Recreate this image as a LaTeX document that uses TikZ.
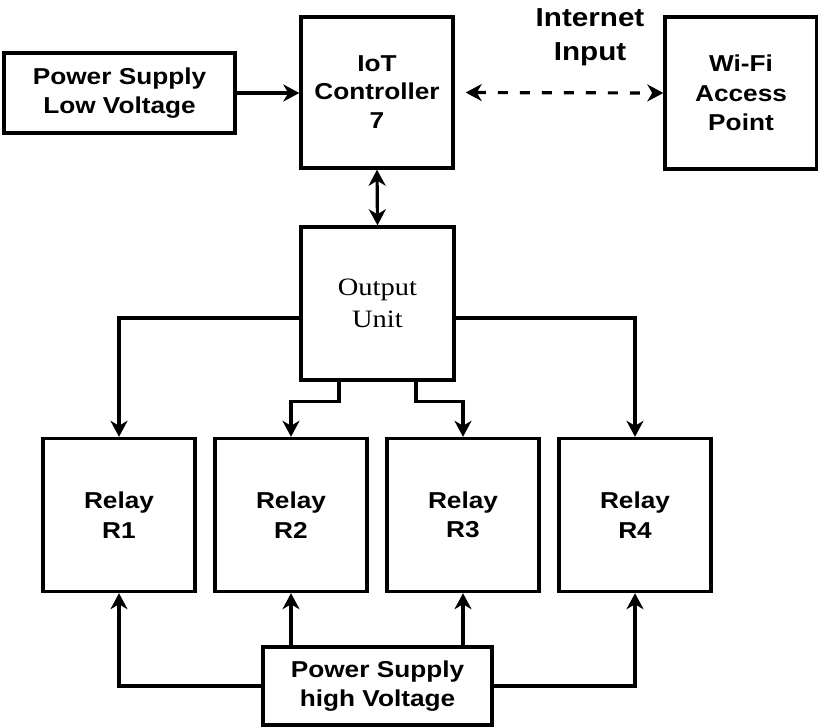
\documentclass[tikz,border=0pt]{standalone}
\usepackage{fontspec}
\setmainfont{Liberation Sans}[FakeStretch=1.14]
\newfontfamily\serifstretch{Liberation Serif}[FakeStretch=1.14]
\usetikzlibrary{arrows.meta}
\begin{document}
\begin{tikzpicture}[x=1pt,y=-1pt,
  box/.style={draw, line width=3.4pt, rectangle, align=center, inner sep=0pt,
    font=\fontsize{23}{29.5}\selectfont\bfseries},
  conn/.style={line width=3.2pt, -{Stealth[length=16pt,width=17pt,inset=5pt]}},
  bothconn/.style={line width=3.2pt, {Stealth[length=16pt,width=17pt,inset=5pt]}-{Stealth[length=16pt,width=17pt,inset=5pt]}},
  lbl/.style={align=center, inner sep=0pt, font=\fontsize{26}{34}\selectfont\bfseries}
]
\useasboundingbox (0,0) rectangle (818,727);
\node[box, minimum width=231pt, minimum height=80pt] (pslv) at (119.5,93) {Power Supply\\Low Voltage};
\node[box, minimum width=152pt, minimum height=151pt] (iot) at (377,92.5) {\raisebox{-2pt}{IoT}\\Controller\\7};
\node[box, minimum width=152pt, minimum height=152pt] (wifi) at (741,93) {Wi-Fi\\Access\\Point};
\node[lbl] (inet) at (590,37) {Internet\\Input};
\node[box, minimum width=153pt, minimum height=153pt, font=\serifstretch\fontsize{25}{32}\selectfont] (out) at (377.5,303.5) {Output\\Unit};
\node[box, minimum width=152pt, minimum height=153pt] (r1) at (119,515) {Relay\\R1};
\node[box, minimum width=152pt, minimum height=153pt] (r2) at (291,515) {Relay\\R2};
\node[box, minimum width=152pt, minimum height=153pt] (r3) at (463,515) {Relay\\R3};
\node[box, minimum width=152pt, minimum height=153pt] (r4) at (635,515) {Relay\\R4};
\node[box, minimum width=229pt, minimum height=78pt] (pshv) at (377.5,686) {Power Supply\\high Voltage};

\draw[conn] (pslv.east) -- (iot.west |- pslv.east);
\draw[bothconn, dash pattern=on 10pt off 12pt, shorten <=11pt] (iot.east) -- (wifi.west);
\draw[bothconn] (iot.south) -- (out.north);
\draw[conn] ([yshift=-14.5pt]out.west) -| (r1.north);
\draw[conn] ([yshift=-14.5pt]out.east) -| (r4.north);
\draw[conn] ([xshift=-38.5pt]out.south) -- ++(0,20) -| (r2.north);
\draw[conn] ([xshift=38.5pt]out.south) -- ++(0,20) -| (r3.north);
\draw[conn] (pshv.west) -| (r1.south);
\draw[conn] (pshv.east) -| (r4.south);
\draw[conn] (pshv.north -| r2.south) -- (r2.south);
\draw[conn] (pshv.north -| r3.south) -- (r3.south);
\end{tikzpicture}
\end{document}
